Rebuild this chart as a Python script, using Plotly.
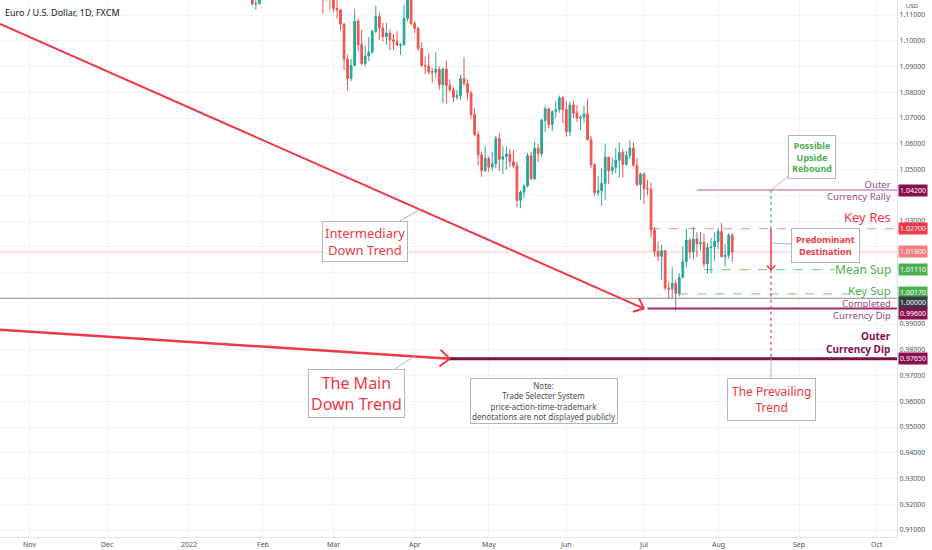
import math
import pandas as pd
import plotly.graph_objects as go

# EUR/USD daily candles, 26 Jan 2022 - 5 Aug 2022 (trading days only)
dates = pd.bdate_range("2022-01-26", "2022-08-05")

opens = [
    1.1302, 1.1243, 1.1143, 1.1145,
    # Feb
    1.1234, 1.1270, 1.1303, 1.1440, 1.1454, 1.1440, 1.1416, 1.1423, 1.1425, 1.1349,
    1.1305, 1.1357, 1.1373, 1.1360, 1.1322, 1.1307, 1.1309, 1.1307, 1.1193, 1.1270,
    # Mar
    1.1220, 1.1125, 1.1120, 1.1065, 1.0929, 1.0853, 1.0904, 1.1076, 1.0985, 1.0912,
    1.0941, 1.0956, 1.1036, 1.1094, 1.1050, 1.1016, 1.1030, 1.1004, 1.0998, 1.0983,
    1.0986, 1.1086, 1.1158,
    # Apr
    1.1067, 1.1048, 1.0970, 1.0903, 1.0902, 1.0880, 1.0878, 1.0889, 1.0829, 1.0890,
    1.0826, 1.0810, 1.0781, 1.0787, 1.0853, 1.0834, 1.0797, 1.0714, 1.0636, 1.0557,
    1.0496,
    # May
    1.0543, 1.0509, 1.0522, 1.0620, 1.0540, 1.0550, 1.0560, 1.0530, 1.0514, 1.0380,
    1.0412, 1.0436, 1.0553, 1.0464, 1.0583, 1.0562, 1.0690, 1.0736, 1.0675, 1.0725,
    1.0732, 1.0779,
    # Jun
    1.0733, 1.0647, 1.0751, 1.0719, 1.0700, 1.0703, 1.0716, 1.0617, 1.0519, 1.0410,
    1.0418, 1.0446, 1.0548, 1.0495, 1.0509, 1.0536, 1.0566, 1.0520, 1.0555, 1.0583,
    1.0517, 1.0442,
    # Jul
    1.0483, 1.0425, 1.0424, 1.0265, 1.0182, 1.0163, 1.0185, 1.0040, 1.0036, 1.0058,
    1.0019, 1.0081, 1.0143, 1.0226, 1.0180, 1.0230, 1.0212, 1.0217, 1.0133, 1.0197,
    1.0200,
    # Aug
    1.0220, 1.0259, 1.0162, 1.0167, 1.0245,
]
highs = [
    1.1309, 1.1250, 1.1174, 1.1245,
    1.1274, 1.1313, 1.1450, 1.1483, 1.1462, 1.1448, 1.1449, 1.1495, 1.1440, 1.1370,
    1.1367, 1.1395, 1.1393, 1.1375, 1.1395, 1.1360, 1.1344, 1.1326, 1.1273, 1.1274,
    1.1233, 1.1165, 1.1122, 1.1068, 1.0946, 1.0929, 1.1121, 1.1086, 1.1043, 1.0981,
    1.1015, 1.1043, 1.1137, 1.1110, 1.1070, 1.1070, 1.1045, 1.1026, 1.1037, 1.0990,
    1.1138, 1.1185, 1.1177,
    1.1076, 1.1055, 1.0995, 1.0938, 1.0952, 1.0895, 1.0955, 1.0900, 1.0895, 1.0924,
    1.0850, 1.0820, 1.0810, 1.0868, 1.0936, 1.0850, 1.0805, 1.0738, 1.0650, 1.0570,
    1.0590,
    1.0550, 1.0570, 1.0630, 1.0641, 1.0590, 1.0589, 1.0580, 1.0576, 1.0530, 1.0420,
    1.0445, 1.0564, 1.0567, 1.0607, 1.0600, 1.0698, 1.0748, 1.0740, 1.0730, 1.0765,
    1.0787, 1.0785,
    1.0765, 1.0764, 1.0765, 1.0750, 1.0710, 1.0748, 1.0774, 1.0630, 1.0525, 1.0475,
    1.0505, 1.0601, 1.0550, 1.0545, 1.0583, 1.0606, 1.0580, 1.0572, 1.0615, 1.0606,
    1.0545, 1.0488,
    1.0486, 1.0461, 1.0449, 1.0276, 1.0220, 1.0208, 1.0187, 1.0065, 1.0121, 1.0068,
    1.0097, 1.0201, 1.0269, 1.0233, 1.0278, 1.0257, 1.0258, 1.0250, 1.0215, 1.0235,
    1.0254,
    1.0274, 1.0293, 1.0210, 1.0254, 1.0253,
]
lows = [
    1.1235, 1.1136, 1.1121, 1.1140,
    1.1213, 1.1263, 1.1272, 1.1413, 1.1420, 1.1393, 1.1400, 1.1375, 1.1340, 1.1280,
    1.1290, 1.1335, 1.1315, 1.1310, 1.1287, 1.1290, 1.1304, 1.1106, 1.1155, 1.1122,
    1.1110, 1.1086, 1.1040, 1.0886, 1.0806, 1.0844, 1.0900, 1.0960, 1.0905, 1.0900,
    1.0920, 1.0950, 1.1030, 1.1003, 1.0996, 1.0985, 1.0963, 1.0965, 1.0980, 1.0945,
    1.0980, 1.1075, 1.1060,
    1.1030, 1.0960, 1.0900, 1.0870, 1.0870, 1.0837, 1.0857, 1.0810, 1.0758, 1.0757,
    1.0800, 1.0760, 1.0770, 1.0770, 1.0825, 1.0770, 1.0697, 1.0630, 1.0515, 1.0471,
    1.0490,
    1.0490, 1.0495, 1.0505, 1.0493, 1.0483, 1.0500, 1.0510, 1.0505, 1.0354, 1.0350,
    1.0389, 1.0430, 1.0460, 1.0460, 1.0530, 1.0550, 1.0645, 1.0660, 1.0650, 1.0700,
    1.0720, 1.0680,
    1.0627, 1.0630, 1.0700, 1.0685, 1.0653, 1.0680, 1.0611, 1.0506, 1.0397, 1.0397,
    1.0359, 1.0383, 1.0443, 1.0479, 1.0485, 1.0469, 1.0468, 1.0514, 1.0540, 1.0510,
    1.0435, 1.0382,
    1.0366, 1.0400, 1.0236, 1.0161, 1.0143, 1.0072, 1.0030, 0.9999, 0.9998, 0.9952,
    1.0007, 1.0080, 1.0120, 1.0154, 1.0152, 1.0160, 1.0185, 1.0120, 1.0095, 1.0097,
    1.0145,
    1.0190, 1.0160, 1.0123, 1.0154, 1.0141,
]
closes = [
    1.1243, 1.1143, 1.1145, 1.1234,
    1.1270, 1.1303, 1.1440, 1.1454, 1.1440, 1.1416, 1.1423, 1.1425, 1.1349, 1.1305,
    1.1357, 1.1373, 1.1360, 1.1322, 1.1307, 1.1309, 1.1307, 1.1193, 1.1270, 1.1220,
    1.1125, 1.1120, 1.1065, 1.0929, 1.0853, 1.0904, 1.1076, 1.0985, 1.0912, 1.0941,
    1.0956, 1.1036, 1.1094, 1.1050, 1.1016, 1.1030, 1.1004, 1.0998, 1.0983, 1.0986,
    1.1086, 1.1158, 1.1067,
    1.1048, 1.0970, 1.0903, 1.0902, 1.0880, 1.0878, 1.0889, 1.0829, 1.0890, 1.0826,
    1.0810, 1.0781, 1.0787, 1.0853, 1.0834, 1.0797, 1.0714, 1.0636, 1.0557, 1.0496,
    1.0543,
    1.0509, 1.0522, 1.0620, 1.0540, 1.0550, 1.0560, 1.0530, 1.0514, 1.0380, 1.0412,
    1.0436, 1.0553, 1.0464, 1.0583, 1.0562, 1.0690, 1.0736, 1.0675, 1.0725, 1.0732,
    1.0779, 1.0733,
    1.0647, 1.0751, 1.0719, 1.0700, 1.0703, 1.0716, 1.0617, 1.0519, 1.0410, 1.0418,
    1.0446, 1.0548, 1.0495, 1.0509, 1.0536, 1.0566, 1.0520, 1.0555, 1.0583, 1.0517,
    1.0442, 1.0483,
    1.0425, 1.0424, 1.0265, 1.0182, 1.0163, 1.0185, 1.0040, 1.0036, 1.0058, 1.0019,
    1.0081, 1.0143, 1.0226, 1.0180, 1.0230, 1.0212, 1.0217, 1.0133, 1.0197, 1.0200,
    1.0220,
    1.0259, 1.0162, 1.0167, 1.0245, 1.0180,
]

# month ticks on the time axis
tick_dates = ["2021-11-01", "2021-12-01", "2022-01-03", "2022-02-01", "2022-03-01",
              "2022-04-01", "2022-05-02", "2022-06-01", "2022-07-01", "2022-08-01",
              "2022-09-01", "2022-10-03"]
tick_labels = ["Nov", "Dec", "2022", "Feb", "Mar", "Apr", "May", "Jun", "Jul", "Aug",
               "Sep", "Oct"]

# price ticks (some sit under the coloured tags)
price_ticks = [0.91, 0.92, 0.93, 0.94, 0.95, 0.96, 0.97, 0.98, 0.99, 1.00, 1.01,
               1.02, 1.03, 1.04, 1.05, 1.06, 1.07, 1.08, 1.09, 1.10, 1.11]
hidden_ticks = [1.00, 1.01, 1.02, 1.04]

# levels drawn on the chart
outer_rally = 1.0420
key_res = 1.0270
last_price = 1.0180
mean_sup = 1.0111
key_sup = 1.0017
parity = 1.0000
completed_dip = 0.9960
outer_dip = 0.9765

# trend lines (start, end)
intermediary_trend = [("2021-10-19 12:00", 1.1065), ("2022-07-01", 0.9960)]
main_trend = [("2021-10-19 12:00", 0.9878), ("2022-04-15", 0.9765)]

# axis price labels
label_prices = [1.0420, 1.0270, 1.0180, 1.0111, 1.0017, 1.0000, 0.9960, 0.9765]
label_colors = ["#880e4f", "#f23645", "#f77c80", "#4caf50", "#4caf50", "#363a45",
                "#880e4f", "#880e4f"]
label_shifts = [0, 0, 0, 0, 1, -4, -5, 0]

X_START = "2021-10-19 12:00"
X_END = "2022-10-10 16:48"
PROJ = "2022-08-22"  # projection column

RED = "#f23645"
GREEN = "#4caf50"
MAUVE = "#9c4b7e"
PLUM = "#880e4f"
FONT = "Noto Sans"
AXIS_TXT = "#50535e"

fig = go.Figure()
fig.add_trace(go.Candlestick(
    x=dates, open=opens, high=highs, low=lows, close=closes,
    increasing=dict(line=dict(color="#26a69a", width=1), fillcolor="#26a69a"),
    decreasing=dict(line=dict(color="#ef5350", width=1), fillcolor="#ef5350"),
    whiskerwidth=0, hoverinfo="skip", showlegend=False))


def hline(x0, y, color, width=1, dash="solid", x1=X_END):
    fig.add_shape(type="line", xref="x", yref="y", x0=x0, x1=x1, y0=y, y1=y,
                  line=dict(color=color, width=width, dash=dash))


def segment(p0, p1, color, width=2, dash="solid"):
    fig.add_shape(type="line", xref="x", yref="y", x0=p0[0], y0=p0[1],
                  x1=p1[0], y1=p1[1], line=dict(color=color, width=width, dash=dash))


def chevron(x, y, angle, color, width=2, size=13, spread=40):
    # open arrow head; angle = direction of travel in screen degrees
    for s in (-spread, spread):
        a = math.radians(angle + 180 + s)
        fig.add_annotation(x=x, y=y, xref="x", yref="y", text="", showarrow=True,
                           arrowhead=0, arrowwidth=width, arrowcolor=color,
                           ax=size * math.cos(a), ay=size * math.sin(a), standoff=0)


def callout(x, y, text, ax, ay, color, size, bold=False, pad=3):
    fig.add_annotation(x=x, y=y, xref="x", yref="y", text=text, showarrow=True,
                       arrowhead=0, arrowwidth=1, arrowcolor="#b2b5be", ax=ax, ay=ay,
                       font=dict(family=FONT, size=size, color=color,
                                 weight="bold" if bold else "normal"),
                       bgcolor="white", bordercolor="#b2b5be", borderwidth=1,
                       borderpad=pad, align="center")


def side_text(y, text, color, size, yanchor="middle", bold=False, yshift=0):
    fig.add_annotation(x=0.995, y=y, xref="paper", yref="y", text=text,
                       showarrow=False, xanchor="right", yanchor=yanchor, yshift=yshift,
                       align="right",
                       font=dict(family=FONT, size=size, color=color,
                                 weight="bold" if bold else "normal"))


# horizontal levels
hline(X_START, last_price, "rgba(239,83,80,0.35)", 1)
hline(X_START, parity, "#8a8d96", 1)
hline("2022-07-22", outer_rally, "#c995b3", 1.5)
hline("2022-07-05", key_res, "rgba(242,54,69,0.55)", 1, "dash")
hline("2022-07-26", mean_sup, "rgba(76,175,80,0.75)", 1, "dash", x1="2022-09-15")
hline("2022-07-15", key_sup, "rgba(76,175,80,0.75)", 1, "dash", x1="2022-09-21")
hline("2022-07-04", completed_dip, "#9c2d66", 2)
hline("2022-04-15", outer_dip, "#7b1246", 3)

# trend arrows
segment(*intermediary_trend, "#f23645", 2)
chevron(*intermediary_trend[1], 23.8, "#f23645")
segment(*main_trend, "#f23645", 2.5)
chevron(*main_trend[1], 3.7, "#f23645", size=15)

# projection column
segment((PROJ, outer_rally), (PROJ, key_res), GREEN, 1.2, "dot")
segment((PROJ, key_res), (PROJ, mean_sup), RED, 1.5)
chevron(PROJ, mean_sup, 90, RED, width=1.5, size=8, spread=45)
segment((PROJ, mean_sup), (PROJ, outer_dip), RED, 1.2, "dot")

# callouts
callout("2022-04-04 12:00", 1.0345, "Intermediary<br>Down Trend", -55, 32, RED, 13, pad=2)
callout("2022-04-01", 0.9775, "The Main<br>Down Trend", -58, 37, RED, 16, pad=2)
callout(PROJ, outer_rally, "Possible<br>Upside<br>Rebound", 41, -33, GREEN, 9, True)
callout(PROJ, 1.0215, "Predominant<br>Destination", 54, 3, RED, 9, True, pad=4)
callout(PROJ, outer_dip, "The Prevailing<br>Trend", 0, 41, RED, 12, pad=4)
fig.add_annotation(x="2022-05-23 14:00", y=0.9601, xref="x", yref="y",
                   text="Note:<br>Trade Selecter System<br>price-action-time-trademark"
                        "<br>denotations are not displayed publicly",
                   showarrow=False, font=dict(family=FONT, size=8, color="#4a4d57"),
                   bgcolor="white", bordercolor="#b2b5be", borderwidth=1, borderpad=1)

# level names on the right
side_text(outer_rally, "Outer<br>Currency Rally", MAUVE, 9.5)
side_text(key_res, "Key Res", RED, 13, "bottom", yshift=1)
side_text(mean_sup, "Mean Sup", GREEN, 12)
side_text(key_sup, "Key Sup", GREEN, 11.5, yshift=3)
side_text(completed_dip, "Completed<br>Currency Dip", MAUVE, 9.5, yshift=-1)
side_text(outer_dip, "Outer<br>Currency Dip", PLUM, 10, "bottom", True, yshift=1)

# coloured price tags on the axis
for price, color, shift in zip(label_prices, label_colors, label_shifts):
    fig.add_annotation(x=1, y=price, xref="paper", yref="y", text=f"{price:.5f}",
                       showarrow=False, xanchor="left", yanchor="middle", yshift=shift,
                       xshift=1, bgcolor=color, borderpad=1,
                       font=dict(family=FONT, size=7, color="white"))

# month labels under the time axis
for d, lab in zip(tick_dates, tick_labels):
    fig.add_annotation(x=d, y=0, xref="x", yref="paper", text=lab, showarrow=False,
                       yanchor="top", yshift=-1,
                       font=dict(family=FONT, size=7, color=AXIS_TXT))

fig.add_annotation(x=1, y=1, xref="paper", yref="paper", text="USD", showarrow=False,
                   xanchor="left", yanchor="top", xshift=7, yshift=0,
                   font=dict(family=FONT, size=6, color=AXIS_TXT))
fig.add_annotation(x=0, y=1, xref="paper", yref="paper",
                   text="Euro / U.S. Dollar, 1D, FXCM", showarrow=False,
                   xanchor="left", yanchor="top", xshift=3, yshift=-4,
                   font=dict(family=FONT, size=9, color="#131722"))

fig.update_layout(
    width=932, height=550,
    margin=dict(l=0, r=35, t=0, b=13),
    paper_bgcolor="white", plot_bgcolor="white",
    font=dict(family=FONT),
    showlegend=False,
    xaxis=dict(
        type="date", range=[X_START, X_END],
        rangebreaks=[dict(bounds=["sat", "mon"])],
        rangeslider=dict(visible=False),
        tickvals=tick_dates, showticklabels=False, ticks="",
        showgrid=True, gridcolor="#f2f3f7", zeroline=False,
        showline=True, linecolor="#e0e3eb", automargin=False,
    ),
    yaxis=dict(
        side="right", range=[0.90729, 1.11583],
        tickvals=price_ticks,
        ticktext=["" if p in hidden_ticks else f"{p:.5f}" for p in price_ticks],
        tickfont=dict(size=7, color=AXIS_TXT),
        showgrid=True, gridcolor="#f2f3f7", zeroline=False,
        showline=True, linecolor="#e0e3eb", automargin=False,
    ),
)

fig.write_html("out.html", config={"displayModeBar": False},
               post_script="document.body.style.margin='0';")
